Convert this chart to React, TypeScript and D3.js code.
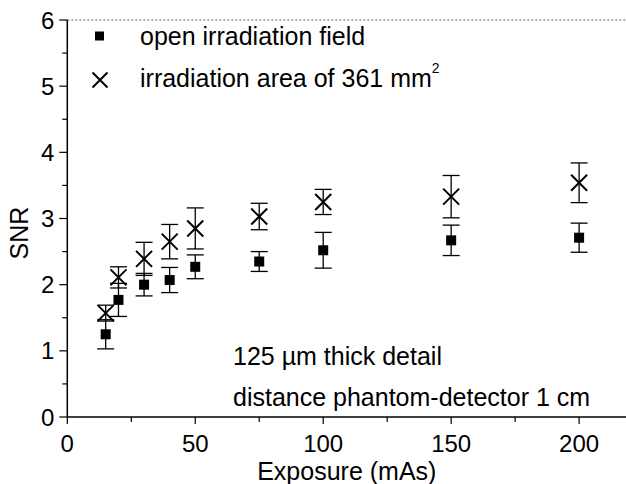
import React from "react";
import * as d3 from "d3";

const exposure = [15, 20, 30, 40, 50, 75, 100, 150, 200];
const openField = [1.25, 1.77, 2.0, 2.07, 2.27, 2.35, 2.52, 2.67, 2.71];
const openFieldErr = [0.22, 0.25, 0.17, 0.19, 0.18, 0.15, 0.27, 0.23, 0.22];
const areaField = [1.57, 2.11, 2.39, 2.65, 2.85, 3.03, 3.25, 3.33, 3.54];
const areaFieldErr = [0.12, 0.16, 0.25, 0.26, 0.31, 0.2, 0.19, 0.32, 0.3];
const xTicks = [0, 50, 100, 150, 200];
const xMinor = [25, 75, 125, 175];
const yTicks = [0, 1, 2, 3, 4, 5, 6];
const yMinor = [0.5, 1.5, 2.5, 3.5, 4.5, 5.5];
const legendLabels = ["open irradiation field", "irradiation area of 361 mm"];
const notes = ["125 \u00b5m thick detail", "distance phantom-detector 1 cm"];

const W = 626;
const H = 484;
const FONT = "'Liberation Sans', Arial, sans-serif";

export default function App() {
  const x = d3.scaleLinear().domain([0, 220]).range([67.3, 67.3 + 220 * 2.559]);
  const y = d3.scaleLinear().domain([0, 6]).range([417, 20]);
  const x0 = x(0);
  const y0 = y(0);
  const cap = 8.5;

  const errBar = (xv: number, v: number, e: number, key: string) => {
    const cx = x(xv);
    const yt = y(v + e);
    const yb = y(v - e);
    return (
      <g key={key} stroke="#000" strokeWidth={1.3}>
        <line x1={cx} x2={cx} y1={yt} y2={yb} />
        <line x1={cx - cap} x2={cx + cap} y1={yt} y2={yt} />
        <line x1={cx - cap} x2={cx + cap} y1={yb} y2={yb} />
      </g>
    );
  };

  const cross = (cx: number, cy: number, s: number, key: string) => (
    <path
      key={key}
      d={`M${cx - s},${cy - s}L${cx + s},${cy + s}M${cx - s},${cy + s}L${cx + s},${cy - s}`}
      stroke="#000"
      strokeWidth={2}
      fill="none"
    />
  );

  return (
    <svg
      width={W}
      height={H}
      style={{ position: "absolute", left: 0, top: 0, background: "#fff" }}
      fontFamily={FONT}
    >
      <rect x={0} y={0} width={W} height={H} fill="#fff" />
      {/* top frame */}
      <line x1={x0} x2={W} y1={y(6)} y2={y(6)} stroke="#666" strokeWidth={1} strokeDasharray="2,2" />
      {/* axes */}
      <line x1={x0} x2={x0} y1={y(6)} y2={y0} stroke="#000" strokeWidth={1.5} />
      <line x1={x0} x2={W} y1={y0} y2={y0} stroke="#000" strokeWidth={1.5} />
      {yTicks.map((t) => (
        <g key={"yt" + t}>
          <line x1={x0 - 8} x2={x0} y1={y(t)} y2={y(t)} stroke="#000" strokeWidth={1.2} />
          <text x={x0 - 13} y={y(t)} dy="0.36em" textAnchor="end" fontSize={24}>
            {t}
          </text>
        </g>
      ))}
      {yMinor.map((t) => (
        <line key={"ym" + t} x1={x0 - 5} x2={x0} y1={y(t)} y2={y(t)} stroke="#000" strokeWidth={1.2} />
      ))}
      {xTicks.map((t) => (
        <g key={"xt" + t}>
          <line x1={x(t)} x2={x(t)} y1={y0} y2={y0 + 7} stroke="#000" strokeWidth={1.2} />
          <text x={x(t)} y={452} textAnchor="middle" fontSize={24}>
            {t}
          </text>
        </g>
      ))}
      {xMinor.map((t) => (
        <line key={"xm" + t} x1={x(t)} x2={x(t)} y1={y0} y2={y0 + 5} stroke="#000" strokeWidth={1.2} />
      ))}
      <text x={(x0 + x(220)) / 2 - 2} y={480} textAnchor="middle" fontSize={25}>
        Exposure (mAs)
      </text>
      <text transform={`translate(28,233) rotate(-90)`} textAnchor="middle" fontSize={25}>
        SNR
      </text>

      {/* error bars */}
      {exposure.map((xv, i) => errBar(xv, openField[i], openFieldErr[i], "eo" + i))}
      {exposure.map((xv, i) => errBar(xv, areaField[i], areaFieldErr[i], "ea" + i))}
      {/* markers */}
      {exposure.map((xv, i) => (
        <rect key={"sq" + i} x={x(xv) - 5} y={y(openField[i]) - 5} width={10} height={10} fill="#000" />
      ))}
      {exposure.map((xv, i) => cross(x(xv), y(areaField[i]), 8, "cr" + i))}

      {/* legend */}
      <rect x={95} y={31.5} width={9} height={9} fill="#000" />
      <text x={140} y={45} fontSize={25}>
        {legendLabels[0]}
      </text>
      {cross(100, 80, 7.5, "lgc")}
      <text x={140} y={87} fontSize={25}>
        {legendLabels[1]}
        <tspan fontSize={14} dy={-14}>2</tspan>
      </text>

      {/* notes */}
      <text x={233} y={365} fontSize={25}>
        {notes[0]}
      </text>
      <text x={233} y={406} fontSize={25}>
        {notes[1]}
      </text>
    </svg>
  );
}
